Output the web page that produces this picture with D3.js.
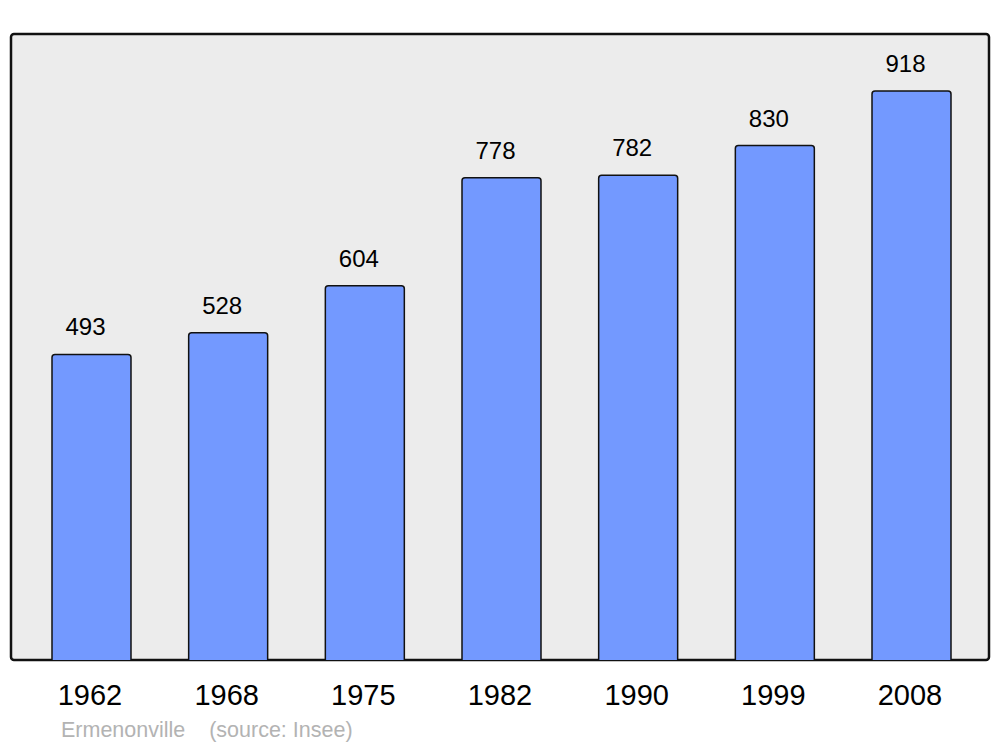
<!DOCTYPE html>
<html><head><meta charset="utf-8">
<script src="https://cdn.jsdelivr.net/npm/d3@7"></script>
<style>body{margin:0;background:#fff}svg{display:block}</style>
</head><body>
<script>
const years = ["1962","1968","1975","1982","1990","1999","2008"];
const population = [493,528,604,778,782,830,918];
const sourceText = "Ermenonville    (source: Insee)";

const W = 1000, H = 747;
const svg = d3.select("body").append("svg").attr("width", W).attr("height", H);
const font = "'Liberation Sans', Arial, sans-serif";

const frame = {x0: 11, x1: 989, y0: 34, y1: 660};

svg.append("rect")
  .attr("x", frame.x0).attr("y", frame.y0)
  .attr("width", frame.x1 - frame.x0).attr("height", frame.y1 - frame.y0)
  .attr("rx", 3).attr("fill", "#ececec").attr("stroke", "#111").attr("stroke-width", 2.5);

const x = d3.scaleBand().domain(years).range([52, 951]).paddingInner(0.422).paddingOuter(0);
const y = d3.scaleLinear().domain([0, 1010]).range([frame.y1, frame.y0]);

function barPath(x0, w, top, bottom, r) {
  return `M${x0},${bottom}V${top + r}Q${x0},${top} ${x0 + r},${top}H${x0 + w - r}Q${x0 + w},${top} ${x0 + w},${top + r}V${bottom}`;
}

const g = svg.append("g");
g.selectAll("path.bar").data(years).join("path")
  .attr("class", "bar")
  .attr("d", (d, i) => barPath(x(d), x.bandwidth(), y(population[i]), frame.y1, 3))
  .attr("fill", "#7399ff").attr("stroke", "#111").attr("stroke-width", 1.5);

g.selectAll("text.val").data(years).join("text")
  .attr("class", "val")
  .attr("x", d => x(d) + x.bandwidth() / 2 - 6)
  .attr("y", (d, i) => y(population[i]) - 19)
  .attr("text-anchor", "middle")
  .attr("font-family", font).attr("font-size", 24).attr("fill", "#000")
  .text((d, i) => population[i]);

g.selectAll("text.year").data(years).join("text")
  .attr("class", "year")
  .attr("x", d => x(d) + x.bandwidth() / 2 - 1.5)
  .attr("y", 705)
  .attr("text-anchor", "middle")
  .attr("font-family", font).attr("font-size", 29).attr("fill", "#000")
  .text(d => d);

svg.append("text")
  .attr("x", 61).attr("y", 737)
  .attr("font-family", font).attr("font-size", 21.5).attr("fill", "#b3b3b3")
  .attr("xml:space", "preserve").style("white-space", "pre")
  .text(sourceText);
</script>
</body></html>
